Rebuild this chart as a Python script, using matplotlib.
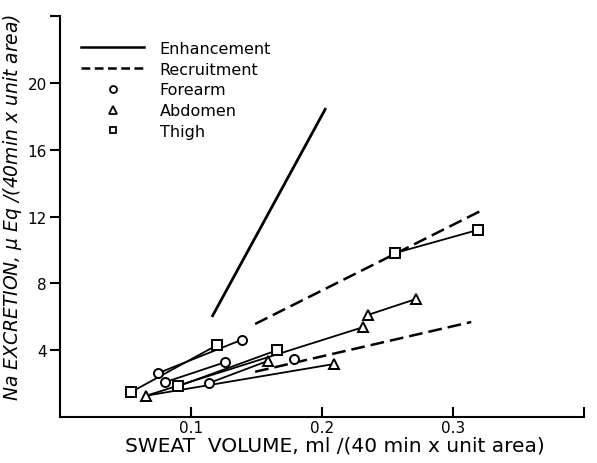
import matplotlib
matplotlib.use("Agg")
import matplotlib.pyplot as plt
from matplotlib.lines import Line2D

# marker positions per site (sweat volume, Na excretion)
forearm_x = [0.075, 0.080, 0.114, 0.126, 0.139, 0.179]
forearm_y = [2.63, 2.08, 2.04, 3.28, 4.63, 3.47]
abdomen_x = [0.066, 0.159, 0.209, 0.231, 0.235, 0.272]
abdomen_y = [1.28, 3.37, 3.17, 5.37, 6.11, 7.07]
thigh_x = [0.054, 0.090, 0.120, 0.166, 0.256, 0.319]
thigh_y = [1.48, 1.84, 4.31, 4.01, 9.82, 11.2]

# thin connecting segments: start / end
seg_x0 = [0.054, 0.075, 0.080, 0.090, 0.066, 0.066, 0.114, 0.256, 0.235]
seg_y0 = [1.48, 2.63, 2.08, 1.84, 1.28, 1.28, 2.04, 9.82, 6.11]
seg_x1 = [0.120, 0.139, 0.126, 0.166, 0.231, 0.209, 0.159, 0.319, 0.272]
seg_y1 = [4.31, 4.63, 3.28, 4.01, 5.37, 3.17, 3.37, 11.2, 7.07]

# enhancement (solid) and recruitment (dashed) lines
enh_x = [0.116, 0.203]
enh_y = [5.99, 18.5]
rec1_x = [0.149, 0.323]
rec1_y = [5.57, 12.41]
rec2_x = [0.149, 0.314]
rec2_y = [2.71, 5.69]

xticks = [0.1, 0.2, 0.3, 0.4]
xticklabels = ['0.1', '0.2', '0.3', '']
yticks = [4, 8, 12, 16, 20, 24]
yticklabels = ['4', '8', '12', '16', '20', '']

plt.rcParams['font.family'] = ['DejaVu Sans']

fig = plt.figure(figsize=(5.97, 4.64), dpi=100)
ax = fig.add_axes([0.1005, 0.0991, 0.8775, 0.8639])

for x0, y0, x1, y1 in zip(seg_x0, seg_y0, seg_x1, seg_y1):
    ax.plot([x0, x1], [y0, y1], color='black', lw=1.3, zorder=2)

ax.plot(enh_x, enh_y, color='black', lw=2.0, solid_capstyle='butt')
ax.plot(rec1_x, rec1_y, color='black', lw=1.8, dashes=(5.5, 2.4))
ax.plot(rec2_x, rec2_y, color='black', lw=1.8, dashes=(5.5, 2.4))

mk = dict(ls='none', mfc='white', mec='black', mew=1.4, zorder=3)
ax.plot(forearm_x, forearm_y, marker='o', ms=6.5, **mk)
ax.plot(abdomen_x, abdomen_y, marker='^', ms=7, **mk)
ax.plot(thigh_x, thigh_y, marker='s', ms=6.5, **mk)

ax.set_xlim(0, 0.4)
ax.set_ylim(0, 24)
ax.spines['top'].set_visible(False)
ax.spines['right'].set_visible(False)
ax.spines['left'].set_linewidth(1.5)
ax.spines['bottom'].set_linewidth(1.5)

ax.set_xticks(xticks)
ax.set_xticklabels(xticklabels, fontsize=11)
ax.set_yticks(yticks)
ax.set_yticklabels(yticklabels, fontsize=11)
ax.tick_params(axis='x', direction='in', length=7, width=1.5, pad=2.5)
ax.tick_params(axis='y', direction='out', length=7, width=1.5, pad=2.5)

ax.set_xlabel('SWEAT  VOLUME, ml /(40 min x unit area)', fontsize=14.5)
ax.xaxis.set_label_coords(0.525, -0.045)
ax.set_ylabel(r'Na EXCRETION, $\mu$ Eq /(40min x unit area)', fontsize=13.5,
              style='italic')
ax.yaxis.set_label_coords(-0.068, 0.525)

handles = [
    Line2D([], [], color='black', lw=1.8),
    Line2D([], [], color='black', lw=1.8, dashes=(3.5, 1.8)),
    Line2D([], [], ls='none', marker='o', ms=5, mfc='white', mec='black', mew=1.3),
    Line2D([], [], ls='none', marker='^', ms=5.5, mfc='white', mec='black', mew=1.3),
    Line2D([], [], ls='none', marker='s', ms=5, mfc='white', mec='black', mew=1.3),
]
labels = ['Enhancement', 'Recruitment', 'Forearm', 'Abdomen', 'Thigh']
ax.legend(handles, labels, loc='upper left', bbox_to_anchor=(0.024, 0.958),
          frameon=False, fontsize=11.5, handlelength=4.0, handletextpad=0.95,
          labelspacing=0.36, borderpad=0)

fig.savefig('out.png', dpi=100)
